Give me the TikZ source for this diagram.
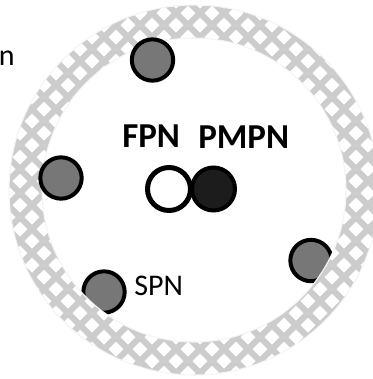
\documentclass[tikz,border=0pt]{standalone}
\usepackage{fontspec}
\setmainfont{Carlito}
\definecolor{ringgray}{HTML}{CCCCCC}
\definecolor{spnfill}{HTML}{777777}
\definecolor{pmpnfill}{HTML}{1C1C1C}
\begin{document}
\begin{tikzpicture}[x=0.75pt,y=-0.75pt,
  spn/.style={circle,draw=black,line width=3pt,fill=spnfill,minimum size=31pt,inner sep=0pt},
  fpn/.style={circle,draw=black,line width=3.75pt,fill=white,minimum size=32.25pt,inner sep=0pt},
  pmpn/.style={circle,draw=black,line width=3pt,fill=pmpnfill,minimum size=32.25pt,inner sep=0pt},
  lbl/.style={inner sep=0pt,anchor=base west,font=\fontsize{22.5}{27}\selectfont},
  blbl/.style={inner sep=0pt,anchor=base west,font=\fontsize{26.25}{31}\selectfont\bfseries},
  ringedge/.style={draw=black!4,line width=0.8pt}]
\useasboundingbox (0,0) rectangle (372,379);
\fill[white] (0,0) rectangle (372,379);
\coordinate (c) at (194,190);

% particles lying under the ring
\node[spn] (spn1) at (104,292) {};
\node[spn] (spn2) at (311,260.5) {};

% patterned ring: grey base with white diamonds
\fill[ringgray,even odd rule] (c) circle[radius=185] (c) circle[radius=152];
\begin{scope}[even odd rule]
  \clip (c) circle[radius=185] (c) circle[radius=152];
  \foreach \j in {-2,...,33} {
    \pgfmathsetmacro\off{mod(\j,2)*12}
    \foreach \i in {-8,...,9} {
      \fill[white] ({164+24*\i+\off},{13+12*\j})
        +(-7.5,0) -- +(0,-7.5) -- +(7.5,0) -- +(0,7.5) -- cycle;
    }
  }
\end{scope}
\draw[ringedge] (c) circle[radius=185];
\draw[ringedge] (c) circle[radius=152];

% particles lying over the ring
\node[spn] (spn3) at (152.5,60) {};
\node[spn] (spn4) at (61,178) {};

% central pair
\node[fpn] (fpn) at (169,189) {};
\node[pmpn] (pmpn) at (213.5,189) {};

% labels
\node[lbl] (cut) at (-1.5,65) {n};
\node[blbl] (fpnlbl) at (122,147) {FPN};
\node[blbl] (pmpnlbl) at (198,148) {PMPN};
\node[lbl] (spnlbl) at (134,295) {SPN};
\end{tikzpicture}
\end{document}
